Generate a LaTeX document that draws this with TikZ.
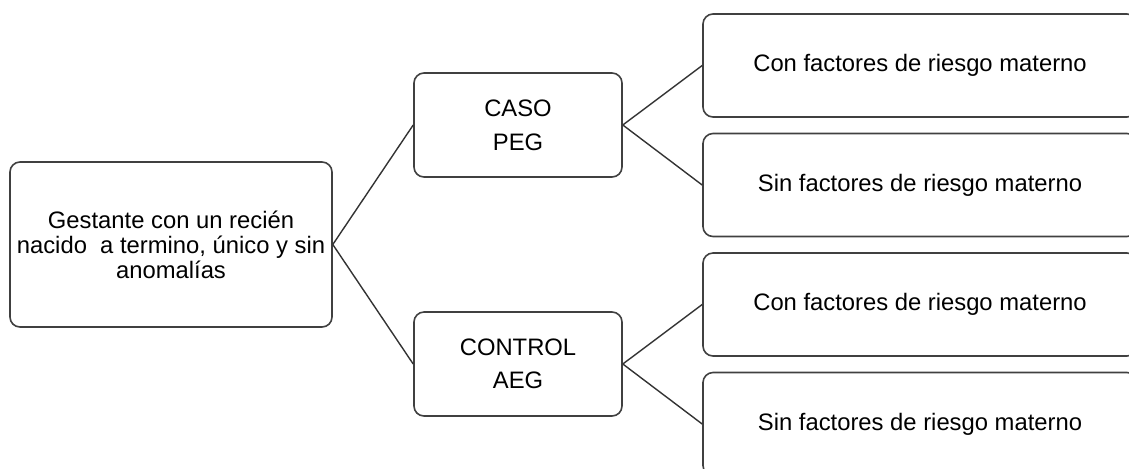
\documentclass[tikz,border=0pt]{standalone}
\usepackage{fontspec}
\setmainfont{Liberation Sans}
\usetikzlibrary{positioning}

\tikzset{
  caja/.style={draw=black!75,line width=0.8pt,rounded corners=5pt,align=center,
    inner sep=0pt},
  rama/.style={draw=black!80,line width=0.7pt}
}

\begin{document}
\begin{tikzpicture}[x=0.5pt,y=-0.5pt,every node/.style={font=\fontsize{11.9}{12.5}\selectfont}]
  \useasboundingbox (0,0) rectangle (1129,468);
  \node[caja,minimum width=161pt,minimum height=82.5pt] (gest) at (171,244.5)
    {Gestante con un reci\'en\\nacido\ \ a termino, \'unico y sin\\anomal\'ias};
  \node[caja,minimum width=104pt,minimum height=52pt,
    font=\fontsize{11.9}{17}\selectfont] (caso) at (518,125) {CASO\\PEG};
  \node[caja,minimum width=104pt,minimum height=52pt,
    font=\fontsize{11.9}{16.5}\selectfont] (ctrl) at (518,364) {CONTROL\\AEG};
  \foreach \n/\y/\lab in {r1/65.5/Con, r2/185/Sin, r3/304.5/Con, r4/424/Sin}{
    \node[caja,minimum width=217pt,minimum height=51.5pt] (\n) at (920,\y)
      {\lab\ factores de riesgo materno};
  }
  \draw[rama] (gest.east) -- (caso.west);
  \draw[rama] (gest.east) -- (ctrl.west);
  \draw[rama] (caso.east) -- (r1.west);
  \draw[rama] (caso.east) -- (r2.west);
  \draw[rama] (ctrl.east) -- (r3.west);
  \draw[rama] (ctrl.east) -- (r4.west);
\end{tikzpicture}
\end{document}
